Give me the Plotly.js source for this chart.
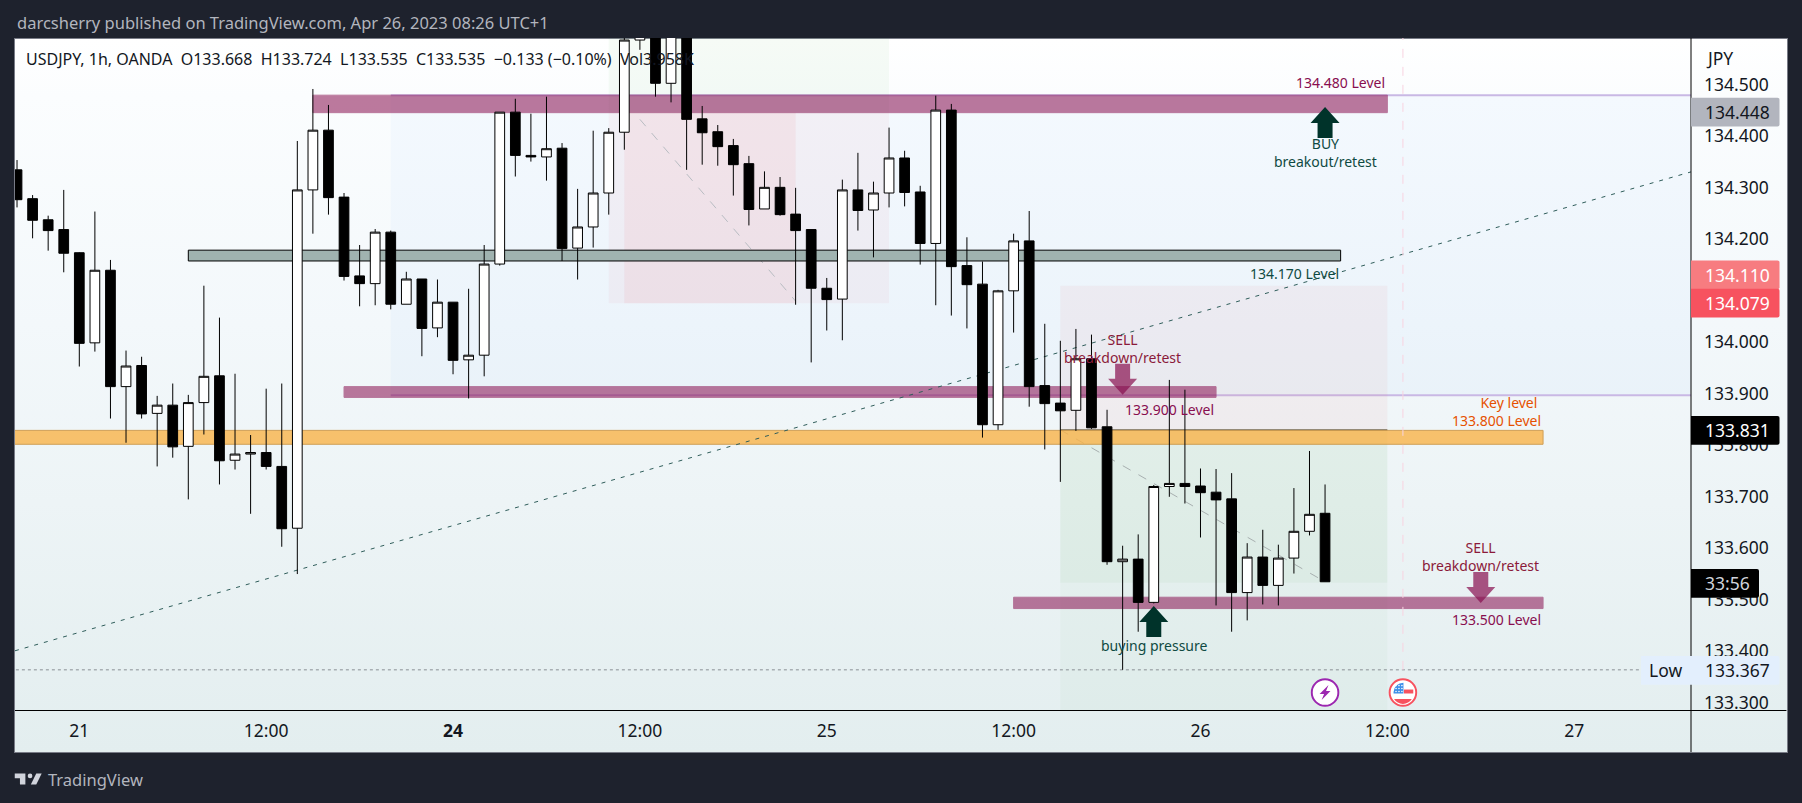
<!DOCTYPE html>
<html>
<head>
<meta charset="utf-8">
<title>USDJPY 1h</title>
<script src="https://cdn.plot.ly/plotly-3.0.1.min.js"></script>
<style>
  html, body { margin: 0; padding: 0; background: #1e222d; width: 1802px; height: 803px; overflow: hidden; }
  /* panel gradient behind the transparent plot */
  #panel { position: absolute; left: 14px; top: 38px; width: 1772px; height: 713px; border: 1px solid #787b86;
           background: linear-gradient(to bottom, #ffffff 0%, #fbfdfe 8%, #f3f8fb 40%, #edf4f6 65%, #e3eeef 100%); }
  #myDiv { position: absolute; left: 0; top: 0; width: 1802px; height: 803px; }
</style>
</head>
<body>
<div id="panel"></div>
<div id="myDiv"></div>
<script>
// Velas de 1h, la primera es la barra -4 (la barra 0 es el 21 a las 00:00)
const firstBar = -4;
const highs = [134.354,134.286,134.246,134.296,134.175,134.254,134.160,133.984,133.972,133.896,133.920,133.898,134.110,134.048,133.939,133.820,133.910,133.920,134.391,134.492,134.461,134.290,134.189,134.220,134.217,134.137,134.123,134.122,134.078,134.104,134.189,134.447,134.473,134.444,134.477,134.387,134.298,134.411,134.416,134.594,134.626,134.639,134.639,134.633,134.459,134.422,134.395,134.362,134.332,134.321,134.300,134.219,134.125,134.316,134.368,134.312,134.417,134.372,134.304,134.479,134.463,134.204,134.157,134.102,134.211,134.255,134.036,134.003,134.026,134.015,133.869,133.605,133.627,133.723,133.927,133.908,133.755,133.754,133.746,133.610,133.636,133.607,133.717,133.789,133.724];
const lows = [134.262,134.202,134.178,134.136,133.953,133.982,133.852,133.805,133.852,133.759,133.776,133.695,133.821,133.724,133.753,133.667,133.753,133.603,133.550,134.211,134.248,134.120,134.070,134.072,134.064,134.074,133.973,134.010,133.938,133.891,133.934,134.149,134.322,134.351,134.314,134.158,134.122,134.184,134.248,134.374,134.568,134.477,134.466,134.335,134.345,134.343,134.285,134.227,134.259,134.246,134.073,133.961,134.023,134.004,134.217,134.165,134.262,134.264,134.151,134.072,134.052,134.027,133.815,133.830,134.019,133.875,133.792,133.729,133.828,133.832,133.568,133.364,133.438,133.493,133.700,133.687,133.621,133.489,133.438,133.460,133.491,133.489,133.551,133.625,133.535];
const opens = [134.335,134.279,134.238,134.219,134.174,133.999,134.140,133.914,133.955,133.862,133.878,133.798,133.883,133.935,133.771,133.783,133.786,133.759,133.639,134.296,134.412,134.282,134.129,134.114,134.214,134.074,134.123,134.028,134.078,133.966,133.975,134.152,134.447,134.363,134.360,134.377,134.183,134.224,134.290,134.408,134.587,134.626,134.503,134.626,134.434,134.409,134.382,134.347,134.259,134.301,134.249,134.219,134.105,134.084,134.296,134.257,134.290,134.358,134.292,134.192,134.451,134.149,134.113,133.840,134.100,134.197,133.916,133.882,133.868,133.968,133.836,133.574,133.579,133.495,133.720,133.726,133.721,133.709,133.696,133.514,133.583,133.528,133.581,133.633,133.668];
const closes = [134.277,134.237,134.217,134.173,133.998,134.140,133.914,133.954,133.861,133.878,133.797,133.883,133.934,133.770,133.783,133.786,133.759,133.638,134.296,134.412,134.281,134.128,134.114,134.214,134.074,134.123,134.027,134.078,133.965,133.975,134.152,134.447,134.363,134.360,134.376,134.182,134.224,134.290,134.408,134.587,134.607,134.503,134.620,134.433,134.407,134.380,134.345,134.258,134.301,134.248,134.217,134.105,134.083,134.296,134.256,134.290,134.358,134.291,134.192,134.451,134.147,134.112,133.840,134.100,134.197,133.914,133.881,133.867,133.968,133.834,133.574,133.579,133.495,133.720,133.726,133.720,133.708,133.694,133.514,133.583,133.528,133.581,133.633,133.666,133.535];
const bars = highs.map((_, i) => i + firstBar);

const timeTicks = [0, 12, 24, 36, 48, 60, 72, 84, 96];
const timeLabels = ['21', '12:00', '<b>24</b>', '12:00', '25', '12:00', '26', '12:00', '27'];
const priceTicks = [134.5, 134.4, 134.3, 134.2, 134.0, 133.9, 133.8, 133.7, 133.6, 133.5, 133.4, 133.3];
const priceLabels = ['134.500', '134.400', '134.300', '134.200', '134.000', '133.900', '133.800', '133.700', '133.600', '133.500', '133.400', '133.300'];

const legendText = 'USDJPY, 1h, OANDA\u00a0\u00a0O133.668\u00a0\u00a0H133.724\u00a0\u00a0L133.535\u00a0\u00a0C133.535\u00a0\u00a0\u22120.133 (\u22120.10%)\u00a0\u00a0Vol3.958K';

// geometria del panel, en pixeles de la pagina
const plotL = 14.5, plotR = 1691.5, plotT = 38, plotB = 710;
const px = v => (v - plotL) / (plotR - plotL);
const py = v => (plotB - v) / (plotB - plotT);

const FONT = '"Noto Sans", sans-serif';
const PURPLE = '#880e4f', TEAL = '#0f4a42', DARKGREEN = '#00332a';

function rect(x0, x1, y0, y1, fill, border, opacity) {
    return { type: 'rect', xref: 'x', yref: 'y', x0: x0, x1: x1, y0: y0, y1: y1, layer: 'below',
             fillcolor: fill, opacity: opacity === undefined ? 1 : opacity,
             line: { width: border ? 1 : 0, color: border || 'rgba(0,0,0,0)' } };
}

function seg(x0, y0, x1, y1, color, dash, width) {
    return { type: 'line', xref: 'x', yref: 'y', x0: x0, x1: x1, y0: y0, y1: y1, layer: 'below',
             line: { color: color, dash: dash || 'solid', width: width || 1 } };
}

// flechas: el ancla es la punta, medidas en pixeles
function arrowUp(bar, price, color) {
    return { type: 'path', xref: 'x', yref: 'y', xsizemode: 'pixel', ysizemode: 'pixel', xanchor: bar, yanchor: price,
             path: 'M0,0 L14.5,-16 L7.5,-16 L7.5,-31 L-7.5,-31 L-7.5,-16 L-14.5,-16 Z',
             fillcolor: color, line: { width: 0 }, layer: 'above' };
}
function arrowDown(bar, price, color) {
    return { type: 'path', xref: 'x', yref: 'y', xsizemode: 'pixel', ysizemode: 'pixel', xanchor: bar, yanchor: price,
             path: 'M0,0 L14.5,16 L7.5,16 L7.5,31 L-7.5,31 L-7.5,16 L-14.5,16 Z',
             fillcolor: color, line: { width: 0 }, layer: 'above' };
}

// etiqueta en el eje de precios, esquinas derechas redondeadas
function priceBox(price, w, fill, left) {
    const l = left || 0, h = 14.4, r = 2;
    return { type: 'path', xref: 'paper', yref: 'y', xsizemode: 'pixel', ysizemode: 'pixel', xanchor: 1, yanchor: price,
             path: 'M' + l + ',' + (-h) + ' L' + (w - r) + ',' + (-h) + ' Q' + w + ',' + (-h) + ' ' + w + ',' + (r - h) +
                   ' L' + w + ',' + (h - r) + ' Q' + w + ',' + h + ' ' + (w - r) + ',' + h + ' L' + l + ',' + h + ' Z',
             fillcolor: fill, line: { width: 0 }, layer: 'above' };
}
function priceText(price, text, color, xPage) {
    return { xref: 'paper', yref: 'y', x: px(xPage === undefined ? 1705 : xPage), y: price, text: text, showarrow: false,
             xanchor: 'left', yanchor: 'middle', xshift: -1, font: { family: FONT, size: 17.5, color: color } };
}

function label(bar, price, text, color, anchor, size) {
    return { xref: 'x', yref: 'y', x: bar, y: price, text: text, showarrow: false, xanchor: anchor || 'center',
             yanchor: 'middle', align: anchor || 'center', font: { family: FONT, size: size || 14, color: color } };
}
function pageText(x, y, text, color, size) {
    return { xref: 'paper', yref: 'paper', x: px(x), y: py(y), text: text, showarrow: false, xanchor: 'left',
             yanchor: 'middle', font: { family: FONT, size: size, color: color } };
}
function axisLine(x0, y0, x1, y1) {
    return { type: 'line', xref: 'paper', yref: 'paper', x0: px(x0), y0: py(y0), x1: px(x1), y1: py(y1),
             line: { color: '#000000', width: 1 }, layer: 'above' };
}

function svgUri(body, vb) {
    return 'data:image/svg+xml;utf8,' + encodeURIComponent(
        '<svg xmlns="http://www.w3.org/2000/svg" viewBox="' + vb + '">' + body + '</svg>');
}
const boltIcon = svgUri('<circle cx="15" cy="15" r="13.5" fill="#fff" stroke="#9c27b0" stroke-width="2"/><path d="M18.5 7.5 L9.5 16.5 H14 L11.5 22.5 L20.5 13.5 H16 Z" fill="#9c27b0"/>', '0 0 30 30');
const flagDots = [8, 11, 14].map(y => [8, 11, 14].map(x => '<circle cx="' + x + '" cy="' + y + '" r="0.8" fill="#fff"/>').join('')).join('');
const flagIcon = svgUri('<circle cx="15" cy="15" r="13.5" fill="#fff" stroke="#f7525f" stroke-width="2"/>' +
    '<path d="M6 21.5 H24 A10.5 10.5 0 0 1 6 21.5 Z" fill="#f7525f"/><rect x="16" y="12" width="9.5" height="4" fill="#f7525f"/>' +
    '<path d="M5.5 16 V14.5 A10 10 0 0 1 15.5 5 V16 Z" fill="#3d8fe8"/>' + flagDots, '0 0 30 30');
const logoIcon = svgUri('<path d="M14 6H0v6h7v8h7V6Z" fill="#d1d4dc"/><circle cx="20" cy="9" r="3" fill="#d1d4dc"/><path d="M28 20h-7l7-14h7l-7 14Z" fill="#d1d4dc"/>', '0 4 36 18');

const shapes = [
    // zona azul de 134.480 a 133.900
    rect(20, 110, 133.897, 134.48, 'rgba(33,120,243,0.03)', null),
    seg(20, 134.48, 110, 134.48, '#c9b8e4', 'solid', 2),
    seg(20, 133.897, 110, 133.897, '#c9b8e4', 'solid', 2),
    // primera posicion
    rect(34, 52, 134.446, 134.9, 'rgba(76,175,80,0.05)', null),
    rect(34, 52, 134.076, 134.446, 'rgba(240,70,90,0.05)', null),
    rect(35, 46, 134.076, 134.446, 'rgba(240,70,80,0.07)', null),
    seg(36, 134.433, 46, 134.08, '#b8bcc2', 'dash'),
    // segunda posicion
    rect(63, 84, 133.830, 134.110, 'rgba(225,130,130,0.08)', null),
    rect(63, 84, 133.2, 133.830, 'rgba(76,175,80,0.035)', null),
    rect(63, 84, 133.533, 133.830, 'rgba(76,175,80,0.05)', null),
    seg(63, 133.830, 80, 133.535, '#a8b0b0', 'dash'),
    seg(63, 133.830, 84, 133.830, '#8f8a80', 'solid', 1.5),
    // niveles
    rect(15, 84, 134.446, 134.48, PURPLE, PURPLE, 0.55),
    rect(7, 81, 134.158, 134.179, '#a0b3b0', '#000000'),
    rect(17, 73, 133.893, 133.914, PURPLE, PURPLE, 0.55),
    rect(-6, 94, 133.802, 133.829, '#f9b44a', '#c98a2e', 0.8),
    rect(60, 94, 133.483, 133.505, PURPLE, PURPLE, 0.55),
    // linea de tendencia, minimo y separador
    seg(-4.13, 133.401, 103.5, 134.331, '#2f5d5a', '4px,6px'),
    seg(-6, 133.364, 100.3, 133.364, '#8a8f94', 'dot'),
    seg(85, 133.364, 85, 134.9, '#f8d3e0', 'dash', 1),
    // flechas
    arrowUp(80, 134.457, DARKGREEN),
    arrowUp(69, 133.488, DARKGREEN),
    arrowDown(67, 133.898, 'rgba(136,14,79,0.7)'),
    arrowDown(90, 133.494, 'rgba(136,14,79,0.7)'),
    // ejes
    axisLine(plotR, plotT, plotR, 752),
    axisLine(14.5, 710.5, 1787, 710.5),
    // etiquetas del eje de precios
    priceBox(134.447, 88.5, '#b2b5be'),
    priceBox(134.131, 88.5, '#f77c80'),
    priceBox(134.076, 88.5, '#f7525f'),
    priceBox(133.829, 88.5, '#000000'),
    priceBox(133.532, 68, '#000000'),
    priceBox(133.363, 88.5, '#e3effd', -50)
];

const annotations = [
    pageText(14, 22, 'darcsherry published on TradingView.com, Apr 26, 2023 08:26 UTC+1', '#b2b5be', 16.5),
    pageText(24, 59, legendText, '#131722', 16),
    pageText(1705, 58, 'JPY', '#131722', 17.5),
    pageText(46, 779, 'TradingView', '#b2b5be', 16.5),
    label(84, 134.505, '134.480 Level', PURPLE, 'right'),
    label(80, 134.368, 'BUY<br>breakout/retest', TEAL),
    label(81, 134.134, '134.170 Level', TEAL, 'right'),
    label(67, 133.989, 'SELL<br>breakdown/retest', '#8b1a3a'),
    label(67, 133.870, '133.900 Level', PURPLE, 'left'),
    label(94, 133.866, 'Key level\u00a0<br>133.800 Level', '#e65100', 'right'),
    label(90, 133.585, 'SELL<br>breakdown/retest', '#8b1a3a'),
    label(94, 133.461, '133.500 Level', PURPLE, 'right'),
    label(69, 133.412, 'buying pressure', TEAL),
    priceText(134.447, '134.448', '#131722'),
    priceText(134.131, '134.110', '#ffffff'),
    priceText(134.076, '134.079', '#ffffff'),
    priceText(133.829, '133.831', '#ffffff'),
    priceText(133.532, '33:56', '#d1d4dc'),
    priceText(133.363, '133.367', '#131722'),
    priceText(133.363, 'Low', '#131722', 1648)
];

const images = [
    { source: boltIcon, xref: 'x', yref: 'y', x: 80, y: 133.32, sizex: 1.9, sizey: 0.058, xanchor: 'center', yanchor: 'middle', layer: 'above' },
    { source: flagIcon, xref: 'x', yref: 'y', x: 85, y: 133.32, sizex: 1.9, sizey: 0.058, xanchor: 'center', yanchor: 'middle', layer: 'above' },
    { source: logoIcon, xref: 'paper', yref: 'paper', x: px(14), y: py(779), sizex: 28 / (plotR - plotL), sizey: 15 / (plotB - plotT), xanchor: 'left', yanchor: 'middle', layer: 'above' }
];

const candles = {
    type: 'candlestick',
    x: bars, open: opens, high: highs, low: lows, close: closes,
    increasing: { line: { color: '#000000', width: 1 }, fillcolor: '#ffffff' },
    decreasing: { line: { color: '#000000', width: 1 }, fillcolor: '#000000' },
    whiskerwidth: 0,
    hoverinfo: 'none'
};

const layout = {
    width: 1802, height: 803,
    margin: { l: plotL, r: 1802 - plotR, t: plotT, b: 803 - plotB, pad: 0 },
    paper_bgcolor: 'rgba(0,0,0,0)',
    plot_bgcolor: 'rgba(0,0,0,0)',
    showlegend: false,
    boxgap: 0.2,
    boxgroupgap: 0.22,
    xaxis: {
        range: [-4.13, 103.5], tickvals: timeTicks, ticktext: timeLabels, showgrid: false, zeroline: false,
        rangeslider: { visible: false }, ticks: '', showline: false, ticklabelstandoff: 8,
        tickangle: 0, tickfont: { family: FONT, size: 17.5, color: '#131722' }, fixedrange: true
    },
    yaxis: {
        side: 'right', range: [133.286, 134.591], tickvals: priceTicks, ticktext: priceLabels, showgrid: false,
        zeroline: false, ticks: '', showline: false, ticklabelstandoff: 12,
        tickfont: { family: FONT, size: 17.5, color: '#131722' }, fixedrange: true
    },
    shapes: shapes,
    annotations: annotations,
    images: images
};

Plotly.newPlot('myDiv', [candles], layout, { displayModeBar: false, staticPlot: true });
</script>
</body>
</html>
